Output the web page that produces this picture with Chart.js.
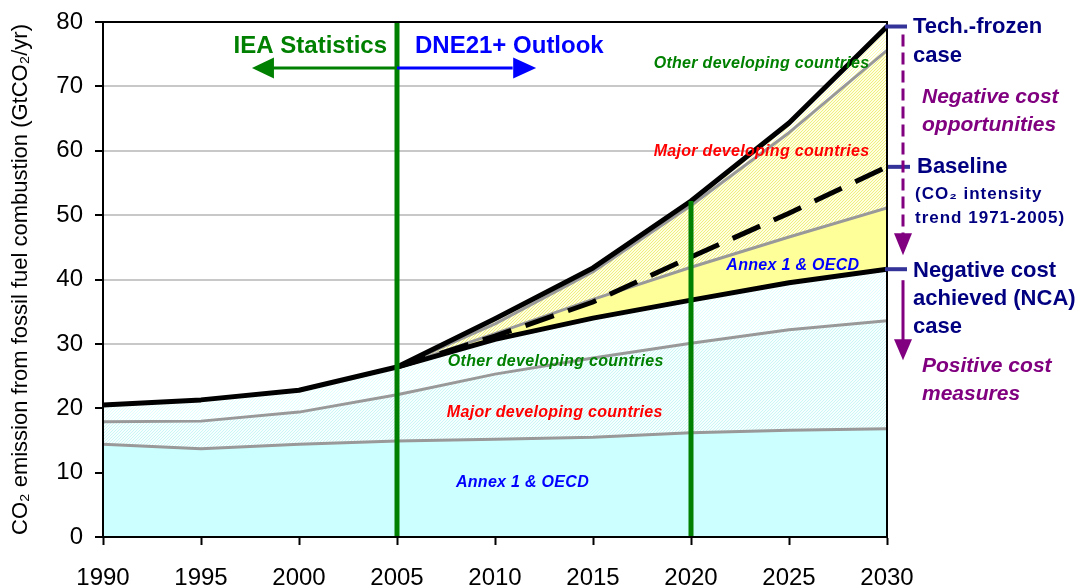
<!DOCTYPE html>
<html>
<head>
<meta charset="utf-8">
<script src="https://cdn.jsdelivr.net/npm/chart.js@4/dist/chart.umd.min.js"></script>
<style>
  html, body { margin: 0; padding: 0; background: #fff; }
</style>
</head>
<body>
<canvas id="myChart" width="1082" height="586"></canvas>
<script>
// chart values
const years = [1990, 1995, 2000, 2005, 2010, 2015, 2020, 2025, 2030];
const annexNCA = [14.4, 13.7, 14.4, 14.9, 15.2, 15.5, 16.2, 16.6, 16.8];
const majorNCA = [17.9, 18.0, 19.4, 22.1, 25.3, 27.8, 30.1, 32.2, 33.6];
const totalNCA = [20.5, 21.3, 22.8, 26.4, 30.7, 34.0, 36.8, 39.5, 41.6];
const annexFrozen = [null, null, null, 26.4, 31.6, 36.9, 41.9, 46.6, 51.1];
const majorFrozen = [null, null, null, 26.4, 33.1, 41.2, 51.5, 62.8, 75.6];
const totalFrozen = [null, null, null, 26.4, 33.9, 41.8, 52.2, 64.3, 79.3];
const baseline = [null, null, null, 26.4, 31.2, 36.5, 43.5, 50.3, 57.5];
const yTicks = [0, 10, 20, 30, 40, 50, 60, 70, 80];
const statsEndYear = 2005;
const markYear = 2020;

const regionLabels = ["Other developing countries", "Major developing countries", "Annex 1 & OECD"];
const phaseLabels = ["IEA Statistics", "DNE21+ Outlook"];
const frozenText = ["Tech.-frozen", "case"];
const negOppText = ["Negative cost", "opportunities"];
const baselineText = ["Baseline", "(CO\u2082 intensity", "trend 1971-2005)"];
const ncaText = ["Negative cost", "achieved (NCA)", "case"];
const posText = ["Positive cost", "measures"];

const FONT = "'Liberation Sans', Arial, sans-serif";
const GREEN = "#008000";
const NAVY = "#000080";
const PURPLE = "#800080";

const pts = arr => years.map((x, i) => ({ x, y: arr[i] }));

// diagonal hatch fill like the original
const hatch = (bg, fg, n) => {
  const c = document.createElement("canvas");
  c.width = n; c.height = n;
  const g = c.getContext("2d");
  g.fillStyle = bg;
  g.fillRect(0, 0, n, n);
  g.fillStyle = fg;
  for (let i = 0; i < n; i++) g.fillRect(i, n - 1 - i, 1, 1);
  return g.createPattern(c, "repeat");
};

const area = (data, color, width, fill, bg, order) => ({
  data: pts(data),
  borderColor: color,
  borderWidth: width,
  backgroundColor: bg,
  fill: fill,
  pointRadius: 0,
  tension: 0,
  borderJoinStyle: "round",
  order: order,
});

const arrowHead = (ctx, x, y, dir, len, half, color) => {
  ctx.fillStyle = color;
  ctx.beginPath();
  if (dir === "left" || dir === "right") {
    const s = dir === "left" ? 1 : -1;
    ctx.moveTo(x, y);
    ctx.lineTo(x + s * len, y - half);
    ctx.lineTo(x + s * len, y + half);
  } else {
    ctx.moveTo(x, y);
    ctx.lineTo(x - half, y - len);
    ctx.lineTo(x + half, y - len);
  }
  ctx.closePath();
  ctx.fill();
};

const notes = {
  id: "notes",
  afterDatasetsDraw(chart) {
    const { ctx, chartArea: a, scales: { x, y } } = chart;
    ctx.save();

    // box around plot
    ctx.strokeStyle = "#000";
    ctx.lineWidth = 2;
    ctx.strokeRect(a.left, a.top, a.right - a.left, a.bottom - a.top);

    // phase arrows
    const x05 = x.getPixelForValue(statsEndYear);
    const ay = y.getPixelForValue(72.85);
    ctx.lineWidth = 3;
    ctx.strokeStyle = GREEN;
    ctx.beginPath(); ctx.moveTo(x05, ay); ctx.lineTo(x.getPixelForValue(1998.5), ay); ctx.stroke();
    arrowHead(ctx, x.getPixelForValue(1997.6), ay, "left", 22, 10.5, GREEN);
    ctx.strokeStyle = "#0000ff";
    ctx.beginPath(); ctx.moveTo(x05, ay); ctx.lineTo(x.getPixelForValue(2010.9), ay); ctx.stroke();
    arrowHead(ctx, x.getPixelForValue(2012.1), ay, "right", 23, 10.5, "#0000ff");

    ctx.font = "bold 24px " + FONT;
    ctx.textBaseline = "alphabetic";
    ctx.fillStyle = GREEN;
    ctx.textAlign = "right";
    ctx.fillText(phaseLabels[0], x05 - 10, y.getPixelForValue(75.2));
    ctx.fillStyle = "#0000ff";
    ctx.textAlign = "left";
    ctx.fillText(phaseLabels[1], x05 + 18, y.getPixelForValue(75.2));

    // region labels
    ctx.font = "italic bold 16px " + FONT;
    ctx.letterSpacing = "0.3px";
    ctx.textAlign = "center";
    ctx.textBaseline = "middle";
    const cols = [GREEN, "#ff0000", "#0000ff"];
    const upper = [[2023.6, 73.6], [2023.6, 59.8], [2025.2, 42.2]];
    const lower = [[2013.1, 27.2], [2013.05, 19.3], [2011.4, 8.4]];
    regionLabels.forEach((t, i) => {
      ctx.fillStyle = cols[i];
      ctx.fillText(t, x.getPixelForValue(upper[i][0]), y.getPixelForValue(upper[i][1]));
      ctx.fillText(t, x.getPixelForValue(lower[i][0]), y.getPixelForValue(lower[i][1]));
    });
    ctx.letterSpacing = "0px";

    // right-hand case markers
    const last = years.length - 1;
    const yF = y.getPixelForValue(totalFrozen[last]);
    const yB = y.getPixelForValue(baseline[last]);
    const yN = y.getPixelForValue(totalNCA[last]);
    ctx.strokeStyle = "#333399";
    ctx.lineWidth = 4;
    [[yF, 0], [yB, 3], [yN, 0]].forEach(([py, dx]) => {
      ctx.beginPath(); ctx.moveTo(a.right + dx - 2, py); ctx.lineTo(a.right + dx + 20, py); ctx.stroke();
    });

    const ax = a.right + 16;
    ctx.strokeStyle = PURPLE;
    ctx.lineWidth = 3;
    ctx.setLineDash([12, 6]);
    ctx.beginPath(); ctx.moveTo(ax, yF + 8); ctx.lineTo(ax, yN - 34); ctx.stroke();
    ctx.setLineDash([]);
    arrowHead(ctx, ax, yN - 14, "down", 22, 9, PURPLE);
    ctx.beginPath(); ctx.moveTo(ax, yN + 11); ctx.lineTo(ax, yN + 74); ctx.stroke();
    arrowHead(ctx, ax, yN + 91, "down", 21, 9, PURPLE);

    ctx.textAlign = "left";
    ctx.textBaseline = "alphabetic";
    const tx = a.right + 26;
    ctx.fillStyle = NAVY;
    ctx.font = "bold 22px " + FONT;
    ctx.fillText(frozenText[0], tx, yF + 6);
    ctx.fillText(frozenText[1], tx, yF + 35);
    ctx.fillText(baselineText[0], tx + 4, yB + 6);
    ctx.font = "bold 17px " + FONT;
    ctx.letterSpacing = "1px";
    ctx.fillText(baselineText[1], tx + 2, yB + 32);
    ctx.fillText(baselineText[2], tx + 2, yB + 56);
    ctx.letterSpacing = "0px";
    ctx.font = "bold 22px " + FONT;
    ctx.fillText(ncaText[0], tx, yN + 8);
    ctx.fillText(ncaText[1], tx, yN + 36);
    ctx.fillText(ncaText[2], tx, yN + 64);

    ctx.fillStyle = PURPLE;
    ctx.font = "italic bold 21px " + FONT;
    ctx.fillText(negOppText[0], tx + 9, yF + 76);
    ctx.fillText(negOppText[1], tx + 9, yF + 104);
    ctx.fillText(posText[0], tx + 9, yN + 103);
    ctx.fillText(posText[1], tx + 9, yN + 131);

    ctx.restore();
  },
};

const ctx = document.getElementById("myChart").getContext("2d");
const myChart = new Chart(ctx, {
  type: "line",
  data: {
    datasets: [
      area(annexNCA, "#999999", 3, "origin", "#ccffff", 5),
      area(majorNCA, "#999999", 3, "-1", hatch("#f6ffff", "#ccf6f6", 3), 5),
      area(totalNCA, "#000000", 5, "-1", hatch("#ffffff", "#ddffff", 3), 2),
      area(annexFrozen, "#999999", 3, "-1", "#ffff99", 5),
      area(majorFrozen, "#999999", 3, "-1", hatch("#ffffe0", "#f0f080", 3), 5),
      area(totalFrozen, "#000000", 5, "-1", hatch("#ffffff", "#ffffb0", 3), 2),
      Object.assign(area(baseline, "#000000", 5, false, "transparent", 1), { borderDash: [30, 15], borderJoinStyle: "miter" }),
      area([], GREEN, 5, false, "transparent", 0),
      area([], GREEN, 5, false, "transparent", 0),
    ],
  },
  options: {
    responsive: false,
    animation: false,
    devicePixelRatio: 1,
    layout: { padding: { top: 22, right: 195, left: 0, bottom: 0 } },
    plugins: {
      legend: { display: false },
      tooltip: { enabled: false },
      filler: { drawTime: "beforeDatasetsDraw" },
    },
    scales: {
      x: {
        type: "linear",
        min: years[0],
        max: years[years.length - 1],
        afterFit: s => { s.height = 49; },
        afterBuildTicks: s => { s.ticks = years.map(v => ({ value: v })); },
        ticks: { color: "#000", font: { family: FONT, size: 24 }, padding: 19, maxRotation: 0, callback: v => String(v) },
        grid: { drawOnChartArea: false, tickLength: 8, tickColor: "#000", tickWidth: 2 },
        border: { color: "#000", width: 2 },
      },
      y: {
        min: 0,
        max: 80,
        afterFit: s => { s.width = 103; s.paddingTop = 0; s.paddingBottom = 0; },
        afterBuildTicks: s => { s.ticks = yTicks.map(v => ({ value: v })); },
        ticks: { color: "#000", font: { family: FONT, size: 24 }, padding: 12 },
        grid: { color: "#c8c8c8", lineWidth: 2, tickLength: 8, tickColor: "#000", tickWidth: 2 },
        border: { color: "#000", width: 2 },
        title: {
          display: true,
          text: "CO\u2082 emission from fossil fuel combustion (GtCO\u2082/yr)",
          color: "#000",
          font: { family: FONT, size: 22 },
          padding: { top: 8, bottom: 0 },
        },
      },
    },
  },
  plugins: [notes],
});

// vertical phase markers at 2005 (full height) and 2020 (up to the frozen case)
myChart.data.datasets[7].data = [{ x: statsEndYear, y: 0 }, { x: statsEndYear, y: 80 }];
myChart.data.datasets[8].data = [{ x: markYear, y: 0 }, { x: markYear, y: totalFrozen[years.indexOf(markYear)] }];
myChart.update();
</script>
</body>
</html>
